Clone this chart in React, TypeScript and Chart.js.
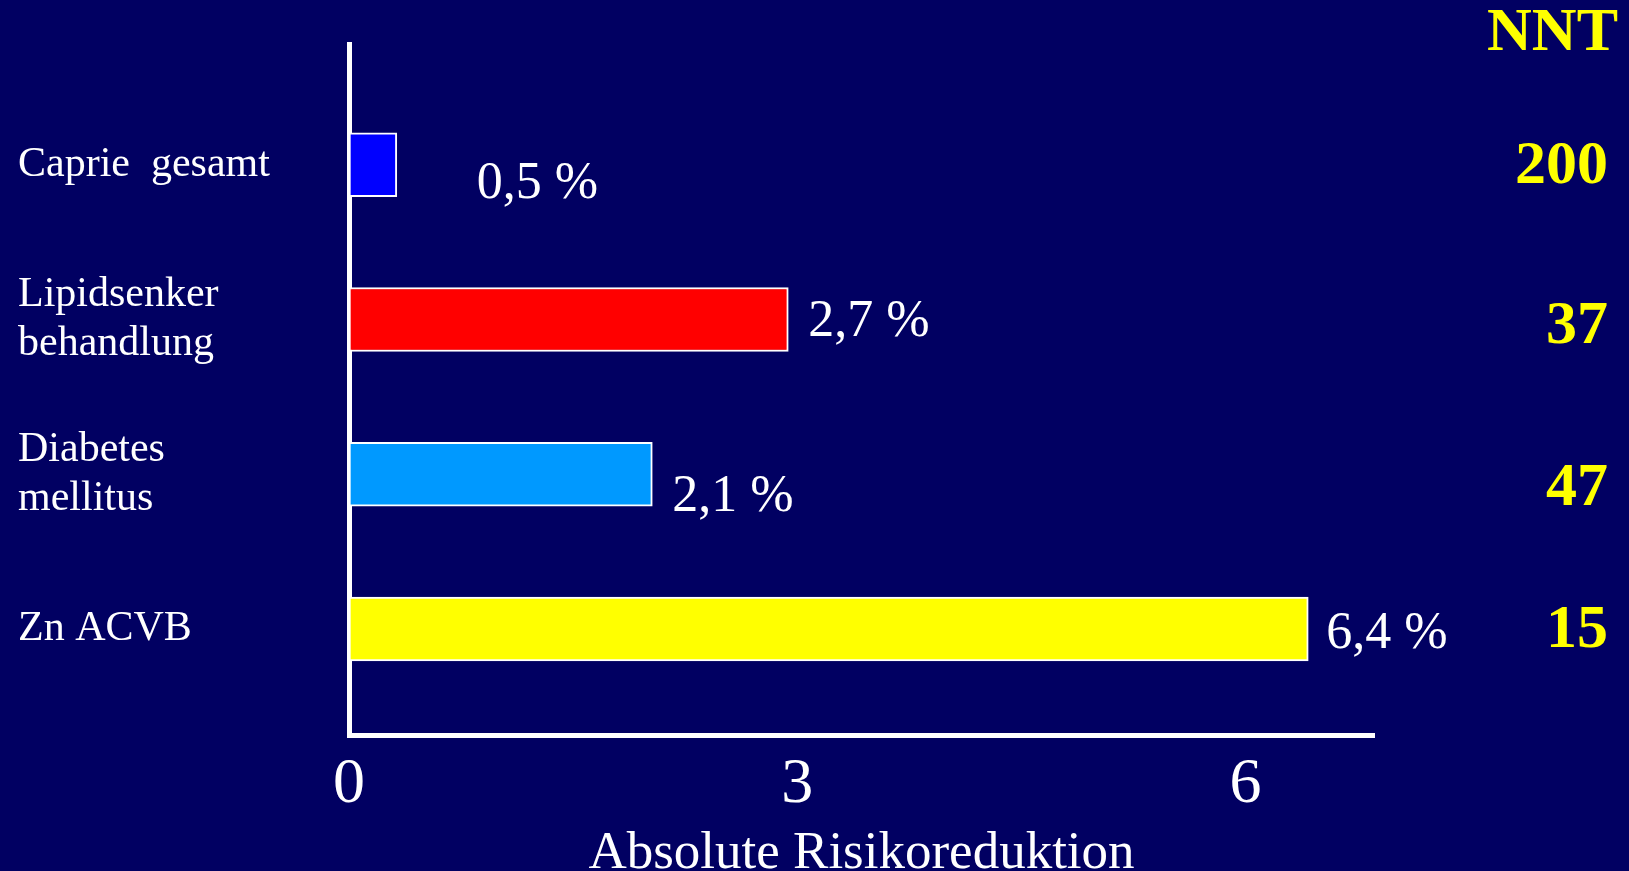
import React, { useEffect, useRef } from "react";
import { Chart, registerables } from "chart.js";

Chart.register(...registerables);

// ---- data ----
const categories: string[][] = [
  ["Caprie  gesamt"],
  ["Lipidsenker", "behandlung"],
  ["Diabetes", "mellitus"],
  ["Zn ACVB"],
];
const riskReduction: number[] = [0.32, 2.94, 2.03, 6.42];
const valueLabels: string[] = ["0,5 %", "2,7 %", "2,1 %", "6,4 %"];
const nntValues: string[] = ["200", "37", "47", "15"];
const barColors: string[] = ["#0000ff", "#ff0000", "#0099ff", "#ffff00"];
const xTicks: number[] = [0, 3, 6];
const xTitle = "Absolute Risikoreduktion";
const nntTitle = "NNT";

const BG = "#010062";
const SERIF = "'Liberation Serif', 'Times New Roman', serif";

export default function App() {
  const canvasRef = useRef<HTMLCanvasElement | null>(null);

  useEffect(() => {
    const canvas = canvasRef.current;
    if (!canvas) return;

    const textPlugin = {
      id: "textPlugin",
      beforeDraw(chart: any) {
        const ctx = chart.ctx;
        ctx.save();
        ctx.fillStyle = BG;
        ctx.fillRect(0, 0, chart.width, chart.height);
        ctx.restore();
      },
      afterDatasetsDraw(chart: any) {
        const ctx = chart.ctx;
        const meta = chart.getDatasetMeta(0);
        const dx = [80, 20, 20, 18];
        const dy = [20, 3, 23, 5];
        const ndy = [2, 8, 15, 2];
        ctx.save();
        ctx.textBaseline = "middle";
        // value labels
        ctx.fillStyle = "#ffffff";
        ctx.font = `52px ${SERIF}`;
        ctx.textAlign = "left";
        meta.data.forEach((el: any, i: number) => {
          ctx.fillText(valueLabels[i], el.x + dx[i], el.y + dy[i]);
        });
        // NNT column
        ctx.fillStyle = "#ffff00";
        ctx.font = `bold 62px ${SERIF}`;
        ctx.textAlign = "right";
        const rightX = chart.width - 21;
        meta.data.forEach((el: any, i: number) => {
          ctx.fillText(nntValues[i], rightX, el.y + ndy[i]);
        });
        ctx.fillText(nntTitle, chart.width - 11, chart.chartArea.top - 10);
        ctx.restore();
      },
    };

    const chart = new Chart(canvas, {
      type: "bar",
      data: {
        datasets: [
          {
            data: riskReduction.map((v, i) => ({ x: v, y: i })),
            backgroundColor: barColors,
            borderColor: "#ffffff",
            borderWidth: 2,
            borderSkipped: false,
            barThickness: 64,
          } as any,
        ],
      },
      options: {
        indexAxis: "y",
        animation: false,
        responsive: true,
        maintainAspectRatio: false,
        layout: { padding: { left: 18, right: 255, top: 44, bottom: 0 } },
        plugins: {
          legend: { display: false },
          tooltip: { enabled: false },
          title: { display: false },
        },
        scales: {
          x: {
            type: "linear",
            position: "bottom",
            min: 0,
            max: 6.86,
            offset: false,
            afterBuildTicks: (scale: any) => {
              scale.ticks = xTicks.map((v) => ({ value: v }));
            },
            afterFit: (scale: any) => {
              scale.height = 136;
            },
            grid: { display: false, drawTicks: false, offset: false },
            border: { display: true, color: "#ffffff", width: 5 },
            ticks: {
              color: "#ffffff",
              font: { family: SERIF, size: 64, lineHeight: 1.2 },
              padding: 12,
              maxRotation: 0,
            },
            title: {
              display: true,
              text: xTitle,
              color: "#ffffff",
              font: { family: SERIF, size: 53, lineHeight: 1 },
              padding: { top: 0, bottom: -10 },
            },
          },
          y: {
            type: "linear",
            position: "left",
            reverse: true,
            min: -0.78,
            max: 3.685,
            offset: false,
            afterBuildTicks: (scale: any) => {
              scale.ticks = categories.map((_, i) => ({ value: i }));
            },
            afterFit: (scale: any) => {
              scale.width = 331;
            },
            grid: { display: false, drawTicks: false, offset: false },
            border: { display: true, color: "#ffffff", width: 5 },
            ticks: {
              color: "#ffffff",
              crossAlign: "far",
              font: { family: SERIF, size: 42, lineHeight: 1.17 },
              callback: (value: any) => categories[Number(value)] ?? "",
            },
          },
        },
      } as any,
      plugins: [textPlugin],
    });

    return () => chart.destroy();
  }, []);

  return (
    <div
      style={{
        position: "fixed",
        left: 0,
        top: 0,
        width: 1629,
        height: 871,
        background: BG,
      }}
    >
      <canvas ref={canvasRef} />
    </div>
  );
}
